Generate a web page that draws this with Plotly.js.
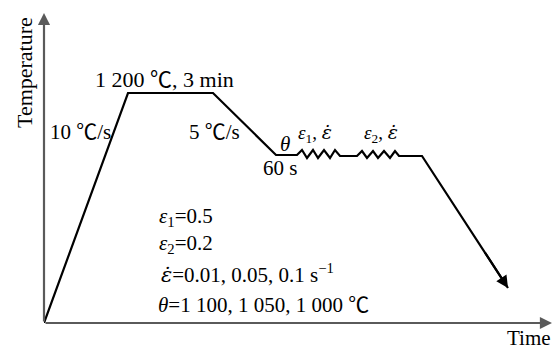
<!DOCTYPE html>
<html>
<head>
<meta charset="utf-8">
<script src="https://cdn.plot.ly/plotly-3.0.1.min.js"></script>
<style>html,body{margin:0;padding:0;background:#fff}#chart{width:557px;height:350px}</style>
</head>
<body>
<div id="chart"></div>
<script>
// Schematic thermal-process path (arbitrary time / temperature units)
var time = [0, 84, 169, 232, 253, 258, 263, 269, 274, 280, 286, 291, 296, 313, 318, 323, 329, 334, 340, 346, 351, 355, 378, 464];
var temperature = [0, 230, 230, 168, 168, 173, 165, 173, 165, 173, 165, 173, 167, 167, 172, 165, 172, 165, 172, 165, 172, 167, 167, 35];

// Axis extents (arbitrary units)
var timeAxisEnd = 508;
var tempAxisEnd = 310;

// Text labels
var DEG = '<span style="font-family:Noto Sans CJK SC">℃</span>';
var EDOT = '<span style="font-family:DejaVu Serif"><i>ε̇</i></span>';
var yLabel = "Temperature";
var xLabel = "Time";
var holdLabel = "1 200 " + DEG + ", 3 min";
var heatRate = "10 " + DEG + "/s";
var coolRate = "5 " + DEG + "/s";
var thetaLabel = "<i>θ</i>";
var holdTime = "60 s";
var pass1 = "<i>ε</i><sub>1</sub>, " + EDOT;
var pass2 = "<i>ε</i><sub>2</sub>, " + EDOT;
var paramLines = [
  "<i>ε</i><sub>1</sub>=0.5",
  "<i>ε</i><sub>2</sub>=0.2",
  EDOT + "=0.01, 0.05, 0.1 s<sup>−1</sup>",
  "<i>θ</i>=1 100, 1 050, 1 000 " + DEG
];

var FONT = "Liberation Serif, Times New Roman, DejaVu Serif, serif";
var axisColor = "#5a5a5a";

var trace = {
  x: time, y: temperature, mode: "lines", type: "scatter",
  line: {color: "#000", width: 2.2}, hoverinfo: "skip", showlegend: false
};

function txt(text, x, y, size, opts) {
  var a = {text: text, x: x, y: y, xref: "x", yref: "y", showarrow: false,
    font: {family: FONT, size: size, color: "#000"}, xanchor: "center", yanchor: "middle"};
  for (var k in opts) a[k] = opts[k];
  return a;
}

var anns = [
  // axes with arrowheads
  {x: 0, y: tempAxisEnd, ax: 0, ay: 0, axref: "x", ayref: "y", xref: "x", yref: "y",
   text: "", showarrow: true, arrowhead: 2, arrowsize: 1.1, arrowwidth: 2.2, arrowcolor: axisColor, standoff: 0, startstandoff: 0},
  {x: timeAxisEnd, y: 0, ax: 0, ay: 0, axref: "x", ayref: "y", xref: "x", yref: "y",
   text: "", showarrow: true, arrowhead: 2, arrowsize: 1.1, arrowwidth: 2.2, arrowcolor: axisColor, standoff: 0, startstandoff: 0},
  // arrowhead at end of cooling line
  {x: time[time.length - 1], y: temperature[temperature.length - 1],
   ax: 440, ay: 72, axref: "x", ayref: "y", xref: "x", yref: "y",
   text: "", showarrow: true, arrowhead: 2, arrowsize: 1.1, arrowwidth: 2.2, arrowcolor: "#000", standoff: 0, startstandoff: 0},
  txt(yLabel, -0.039, 0.777, 22, {xref: "paper", yref: "paper", textangle: -90}),
  txt(xLabel, 0.945, -0.047, 21, {xref: "paper", yref: "paper"}),
  txt(holdLabel, 120, 246, 22),
  txt(heatRate, 36, 193, 21),
  txt(coolRate, 170, 193, 21),
  txt(thetaLabel, 241, 179, 21),
  txt(holdTime, 236, 155, 21),
  txt(pass1, 271, 190, 19),
  txt(pass2, 337, 190, 19),
  txt(paramLines[0], 113, 106, 21, {xanchor: "left"}),
  txt(paramLines[1], 113, 79, 21, {xanchor: "left"}),
  txt(paramLines[2], 115, 50, 21, {xanchor: "left"}),
  txt(paramLines[3], 112, 20, 21, {xanchor: "left"})
];

var layout = {
  width: 557, height: 350,
  margin: {l: 44, r: 0, t: 0, b: 27, pad: 0},
  paper_bgcolor: "#fff", plot_bgcolor: "#fff",
  xaxis: {range: [0, 513], visible: false, fixedrange: true},
  yaxis: {range: [0, 323], visible: false, fixedrange: true},
  annotations: anns,
  showlegend: false
};

Plotly.newPlot("chart", [trace], layout, {staticPlot: true, displayModeBar: false});
</script>
</body>
</html>
